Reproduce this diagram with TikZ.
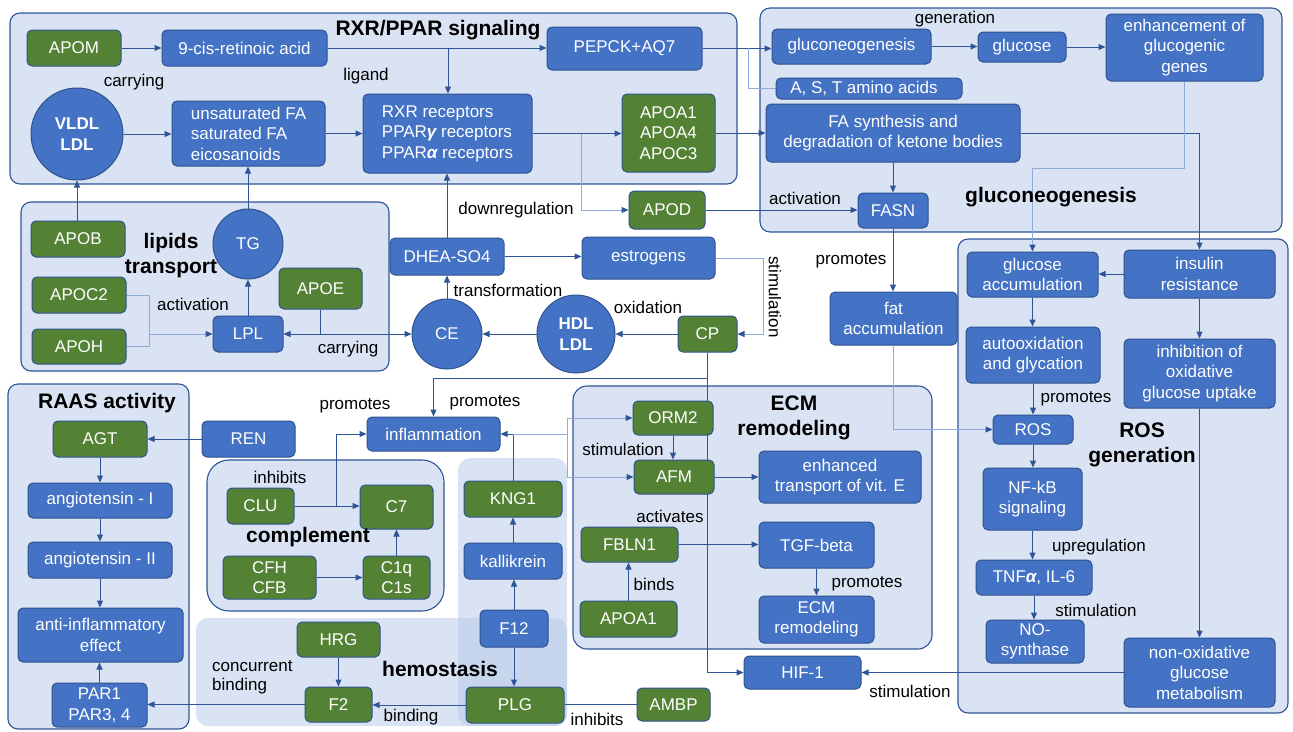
\documentclass[tikz,border=0pt]{standalone}
\usepackage{fontspec}
\setmainfont{Liberation Sans}
\usetikzlibrary{arrows.meta,shapes.geometric}
\definecolor{pfill}{HTML}{DAE3F3}
\definecolor{pbord}{HTML}{2F5597}
\definecolor{nblue}{HTML}{4472C4}
\definecolor{ngreen}{HTML}{548235}
\definecolor{nbord}{HTML}{2F528F}
\definecolor{lcol}{HTML}{2F5597}
\definecolor{llight}{HTML}{8FAADC}
\definecolor{hemo}{HTML}{B4C7E7}
\pgfdeclarelayer{back}\pgfdeclarelayer{mid}\pgfsetlayers{back,mid,main}
\newcommand{\nf}{\fontsize{17}{20.5}\selectfont}
\newcommand{\tf}{\fontsize{21}{25}\selectfont\bfseries}
\newcommand{\bx}[7]{\node[#6, minimum width={(#4)-(#2)}, minimum height={(#5)-(#3)}] (#1) at ({((#2)+(#4))/2},{((#3)+(#5))/2}) {#7};}
\tikzset{
 nbase/.style={draw=nbord, line width=1pt, text=white, font=\nf, inner sep=0pt, align=center},
 bn/.style={nbase, rectangle, rounded corners=5pt, fill=nblue},
 gn/.style={nbase, rectangle, rounded corners=5pt, fill=ngreen},
 cn/.style={nbase, circle, fill=nblue},
 panel/.style={draw=pbord, fill=pfill, line width=1.1pt, rounded corners=10pt},
 conn/.style={draw=lcol, line width=1pt},
 arr/.style={conn, -{Triangle[length=7pt,width=6pt]}},
 lt/.style={draw=llight, line width=1pt},
 larr/.style={lt, -{Triangle[length=7pt,width=6pt,color=lcol]}},
 lbl/.style={font=\nf, text=black, inner sep=0pt},
 ttl/.style={font=\tf, text=black, inner sep=0pt, align=center},
}
\begin{document}
\begin{tikzpicture}[x=1pt,y=-1pt]
\useasboundingbox (0,0) rectangle (1293,731);
\begin{pgfonlayer}{back}
\draw[panel] (10,13) rectangle (737,184);
\draw[panel] (760,8) rectangle (1282,232);
\draw[panel] (21,202) rectangle (389,371);
\draw[panel] (958,239) rectangle (1288,713);
\draw[panel] (8,384) rectangle (189,729);
\draw[panel, rounded corners=22pt] (207,460) rectangle (444,611);
\draw[panel, rounded corners=14pt] (573,386) rectangle (932,649);
\fill[hemo, opacity=0.5, rounded corners=12pt] (196,618) rectangle (567,726);
\fill[hemo, opacity=0.5, rounded corners=12pt] (458,458) rectangle (567,726);
\end{pgfonlayer}

% RXR/PPAR
\bx{apom}{27}{30}{121}{66}{gn}{APOM}
\bx{cis}{162}{30}{327}{66}{bn}{9-cis-retinoic acid}
\bx{pepck}{547}{27}{702}{70}{bn}{PEPCK+AQ7}
\node[cn, minimum size=92pt, font=\nf\bfseries] (vldl) at (77,134) {VLDL\\LDL};
\bx{ufa}{172}{101}{325}{166}{bn, align=left}{unsaturated FA\\saturated FA\\eicosanoids}
\bx{rxr}{363}{94}{532}{173}{bn, align=left}{RXR receptors\\PPAR{\bfseries\itshape γ} receptors\\PPAR{\bfseries\itshape α} receptors}
\bx{apoa}{622}{94}{715}{172}{gn}{APOA1\\APOA4\\APOC3}
% gluconeogenesis
\bx{glu}{772}{29}{931}{64}{bn}{gluconeogenesis}
\bx{glc}{978}{32}{1066}{62}{bn}{glucose}
\bx{enh}{1106}{14}{1263}{81}{bn}{enhancement of\\glucogenic\\genes}
\bx{ast}{776}{78}{962}{99}{bn}{A, S, T amino acids\hspace*{10pt}}
\bx{fas}{766}{104}{1020}{162}{bn}{FA synthesis and\\degradation of ketone bodies}
\bx{fasn}{858}{193}{928}{228}{bn}{FASN}
% lipids transport
\bx{apob}{31}{221}{125}{257}{gn}{APOB}
\bx{apoc2}{32}{277}{126}{313}{gn}{APOC2}
\bx{apoh}{32}{329}{126}{364}{gn}{APOH}
\node[cn, minimum size=70pt] (tg) at (248,244) {TG};
\bx{apoe}{279}{268}{362}{309}{gn}{APOE}
\bx{lpl}{213}{316}{283}{352}{bn}{LPL}
% middle
\bx{dhea}{390}{238}{504}{275}{bn}{DHEA-SO4}
\bx{estr}{582}{237}{715}{279}{bn}{estrogens}
\bx{apod}{629}{191}{705}{229}{gn}{APOD}
\node[cn, minimum size=70pt] (ce) at (447,334) {CE};
\node[cn, minimum size=78pt, font=\nf\bfseries] (hdl) at (576,334) {HDL\\LDL};
\bx{cp}{678}{316}{737}{352}{gn}{CP}
% ROS
\bx{fat}{830}{292}{957}{345}{bn}{fat\\accumulation}
\bx{gacc}{967}{252}{1098}{297}{bn}{glucose\\accumulation}
\bx{ins}{1124}{250}{1275}{298}{bn}{insulin\\resistance}
\bx{auto}{966}{327}{1100}{383}{bn}{autooxidation\\and glycation}
\bx{inh}{1124}{339}{1275}{408}{bn}{inhibition of\\oxidative\\glucose uptake}
\bx{ros}{993}{415}{1073}{444}{bn}{ROS}
\bx{nfkb}{983}{468}{1082}{530}{bn}{NF-kB\\signaling}
\bx{tnf}{976}{560}{1092}{595}{bn}{TNF{\bfseries\itshape α}, IL-6}
\bx{nos}{986}{620}{1084}{663}{bn}{NO-\\synthase}
\bx{nonox}{1124}{638}{1275}{707}{bn}{non-oxidative\\glucose\\metabolism}
\bx{hif}{744}{656}{861}{689}{bn}{HIF-1}
% RAAS / complement / hemostasis
\bx{infl}{367}{417}{500}{451}{bn}{inflammation}
\bx{agt}{53}{421}{147}{457}{gn}{AGT}
\bx{ren}{202}{421}{295}{457}{bn}{REN}
\bx{ang1}{28}{483}{172}{518}{bn}{angiotensin - I}
\bx{ang2}{28}{542}{172}{578}{bn}{angiotensin - II}
\bx{anti}{18}{608}{183}{662}{bn}{anti-inflammatory\\effect}
\bx{par}{52}{683}{147}{727}{bn}{PAR1\\PAR3, 4}
\bx{clu}{227}{488}{294}{524}{gn}{CLU}
\bx{c7}{360}{485}{433}{529}{gn}{C7}
\bx{cfh}{223}{556}{316}{599}{gn}{CFH\\CFB}
\bx{c1q}{363}{556}{430}{599}{gn}{C1q\\C1s}
\bx{hrg}{297}{622}{380}{657}{gn}{HRG}
\bx{f2}{305}{687}{372}{722}{gn}{F2}
\bx{kng1}{464}{481}{562}{517}{gn}{KNG1}
\bx{kal}{464}{543}{562}{579}{bn}{kallikrein}
\bx{f12}{480}{610}{548}{647}{bn}{F12}
\bx{plg}{466}{687}{564}{723}{gn}{PLG}
% ECM
\bx{orm2}{633}{401}{713}{435}{gn}{ORM2}
\bx{afm}{634}{460}{714}{494}{gn}{AFM}
\bx{vite}{759}{451}{921}{503}{bn}{enhanced\\transport of vit. E}
\bx{fbln}{581}{527}{678}{562}{gn}{FBLN1}
\bx{apoa1b}{580}{601}{677}{637}{gn}{APOA1}
\bx{tgf}{759}{522}{874}{568}{bn}{TGF-beta}
\bx{ecmr}{759}{596}{874}{643}{bn}{ECM\\remodeling}
\bx{ambp}{637}{688}{710}{721}{gn}{AMBP}

% titles
\node[ttl] (t1) at (438,30) {RXR/PPAR signaling};
\node[ttl] (t2) at (1051,197) {gluconeogenesis};
\node[ttl] (t3) at (171,256) {lipids\\transport};
\node[ttl] (t4) at (1142,445) {ROS\\generation};
\node[ttl] (t5) at (107,403) {RAAS activity};
\node[ttl] (t6) at (308,537) {complement};
\node[ttl] (t7) at (440,669) {hemostasis};
\node[ttl] (t8) at (794,418) {ECM\\remodeling};
% labels
\node[lbl] (l1) at (134,82) {carrying};
\node[lbl] (l2) at (366,76) {ligand};
\node[lbl] (l3) at (955,19) {generation};
\node[lbl] (l4) at (805,198) {activation};
\node[lbl] (l5) at (193,304) {activation};
\node[lbl] (l6) at (348,349) {carrying};
\node[lbl] (l7) at (516,210) {downregulation};
\node[lbl] (l8) at (508,290) {transformation};
\node[lbl] (l9) at (648,307) {oxidation};
\node[lbl, rotate=-90] (l10) at (775,297) {stimulation};
\node[lbl] (l11) at (851,261) {promotes};
\node[lbl] (l12) at (1076,399) {promotes};
\node[lbl] (l13) at (1099,547) {upregulation};
\node[lbl] (l14) at (1096,610) {stimulation};
\node[lbl] (l15) at (910,691) {stimulation};
\node[lbl] (l16) at (355,406) {promotes};
\node[lbl] (l17) at (485,403) {promotes};
\node[lbl] (l18) at (280,477) {inhibits};
\node[lbl, anchor=west] (l19) at (212,666) {concurrent};
\node[lbl, anchor=west] (l20) at (212,686) {binding};
\node[lbl] (l21) at (411,717) {binding};
\node[lbl] (l22) at (597,719) {inhibits};
\node[lbl] (l23) at (623,449) {stimulation};
\node[lbl] (l24) at (670,516) {activates};
\node[lbl] (l25) at (654,584) {binds};
\node[lbl] (l26) at (867,584) {promotes};

\begin{pgfonlayer}{mid}
\draw[arr] (apom.east) -- (cis.west);
\draw[arr] (cis.east) -- (cis.east -| pepck.west);
\coordinate (b1) at (448,48);
\draw[arr] (b1) -- (b1 |- rxr.north);
\draw[arr] (vldl.east) -- (vldl.east -| ufa.west);
\draw[arr] (ufa.east) -- (ufa.east -| rxr.west);
\draw[arr] (rxr.east) -- (rxr.east -| apoa.west);
\draw[arr] (apoa.east) -- (apoa.east -| fas.west);
\draw[arr] (pepck.east) -- (pepck.east -| glu.west);
\draw[arr] (glu.east) -- (glu.east -| glc.west);
\draw[arr] (glc.east) -- (glc.east -| enh.west);
\draw[arr] (fas.south -| fasn.north) -- (fasn.north);
\draw[arr] (fas.east) -| (ins.north);
\draw[arr] (apod.east) -- (apod.east -| fasn.west);
\draw[arr] (apob.north -| vldl.south) -- (vldl.south);
\draw[arr] (lpl.north) -- (tg.south);
\draw[arr] (tg.north) -- (tg.north |- ufa.south);
\draw[arr] (ce.north) -- (dhea.south);
\draw[arr] (dhea.north) -- (dhea.north |- rxr.south);
\draw[arr] (dhea.east) -- (dhea.east -| estr.west);
\draw[arr] (cp.west) -- (cp.west -| hdl.east);
\draw[arr] (hdl.west) -- (ce.east);
\coordinate (c1) at (707.5,378);
\draw[arr] (cp.south) -- (c1) -| (infl.north);
\draw[arr] (c1) |- (hif.west);
\draw[arr] (fasn.south) -- (fasn.south |- fat.north);
\draw[arr] (gacc.south) -- (gacc.south |- auto.north);
\draw[arr] (auto.south) -- (auto.south |- ros.north);
\draw[arr] (ins.west) -- (ins.west -| gacc.east);
\draw[arr] (ins.south) -- (ins.south |- inh.north);
\draw[arr] (inh.south) -- (inh.south |- nonox.north);
\draw[arr] (ros.south) -- (ros.south |- nfkb.north);
\draw[arr] (nfkb.south) -- (nfkb.south |- tnf.north);
\draw[arr] (tnf.south) -- (tnf.south |- nos.north);
\draw[arr] (nonox.west) -- (hif.east);
\draw[arr] (ren.west) -- (agt.east);
\draw[arr] (agt.south) -- (agt.south |- ang1.north);
\draw[arr] (ang1.south) -- (ang1.south |- ang2.north);
\draw[arr] (ang2.south) -- (ang2.south |- anti.north);
\draw[arr] (par.north) -- (par.north |- anti.south);
\draw[arr] (f2.west) -- (f2.west -| par.east);
\draw[arr] (hrg.south) -- (hrg.south |- f2.north);
\draw[arr] (plg.west) -- (plg.west -| f2.east);
\draw[arr] (clu.east) -- (clu.east -| c7.west);
\coordinate (c2) at (336,506);
\draw[arr] (c2) |- (infl.west);
\draw[arr] (cfh.east) -- (cfh.east -| c1q.west);
\draw[arr] (c1q.north) -- (c1q.north |- c7.south);
\draw[arr] (f12.north) -- (f12.north |- kal.south);
\draw[arr] (kal.north) -- (kal.north |- kng1.south);
\draw[arr] (f12.south) -- (f12.south |- plg.north);
\draw[arr] (kng1.north) |- (infl.east);
\draw[conn] (ambp.west) -- (ambp.west -| plg.east);
\draw[arr] (orm2.south) -- (orm2.south |- afm.north);
\draw[arr] (afm.east) -- (afm.east -| vite.west);
\draw[arr] (fbln.east) -- (fbln.east -| tgf.west);
\draw[arr] (apoa1b.north) -- (apoa1b.north |- fbln.south);
\draw[arr] (tgf.south) -- (tgf.south |- ecmr.north);
\coordinate (c3) at (320.5,334);
\draw[conn] (apoe.south) -- (c3);
\draw[arr] (c3) -- (lpl.east);
\draw[arr] (c3) -- (ce.west);
% light connectors
\coordinate (c4) at (748,48);
\draw[lt] (c4) |- (ast.west);
\coordinate (c5) at (581,134);
\draw[larr] (c5) |- (apod.west);
\coordinate (c6) at (149,334);
\draw[lt] (apoc2.east) -| (c6);
\draw[lt] (apoh.east) -| (c6);
\draw[larr] (c6) -- (lpl.west);
\coordinate (c7p) at (763,334);
\draw[larr] (estr.east) -| (c7p) -- (cp.east);
\coordinate (c8) at (1184.5,168);
\draw[larr] (enh.south) -- (c8) -| (gacc.north);
\draw[larr] (fat.south) |- (ros.west);
\coordinate (c9) at (513,434);
\coordinate (c9b) at (567,434);
\coordinate (c10) at (567,418);
\coordinate (c11) at (567,477);
\draw[lt] (c9) -- (c9b);
\draw[lt] (c10) -- (c11);
\draw[larr] (c10) -- (orm2.west);
\draw[larr] (c11) -- (afm.west);
\end{pgfonlayer}
\end{tikzpicture}
\end{document}
